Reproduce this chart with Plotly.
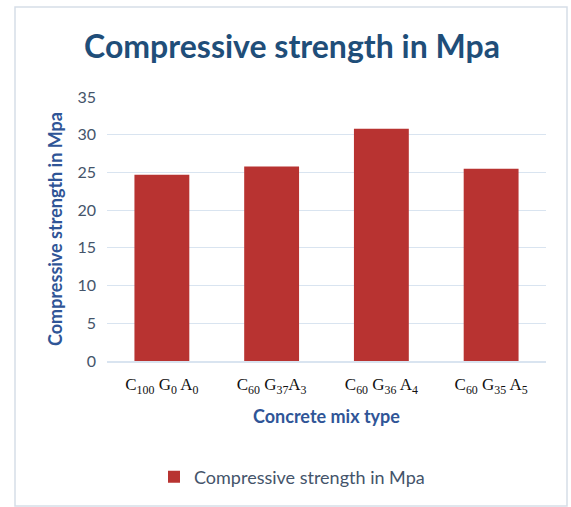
import plotly.graph_objects as go

# Concrete mixes and their measured compressive strength (MPa)
mix_labels = [
    "C<sub>100</sub> G<sub>0</sub> A<sub>0</sub>",
    "C<sub>60</sub> G<sub>37</sub>A<sub>3</sub>",
    "C<sub>60</sub> G<sub>36</sub> A<sub>4</sub>",
    "C<sub>60</sub> G<sub>35</sub> A<sub>5</sub>",
]
strength_mpa = [24.7, 25.8, 30.8, 25.5]
y_ticks = [0, 5, 10, 15, 20, 25, 30, 35]

W, H = 571, 507
ml, mr, mt, mb = 107, 25, 97, 146
pw, ph = W - ml - mr, H - mt - mb

fig = go.Figure()
fig.add_trace(go.Bar(
    x=mix_labels,
    y=strength_mpa,
    name="Compressive strength in Mpa",
    marker=dict(color="#B83331", line=dict(width=0)),
))

# outer frame around the whole chart
def px_x(v):
    return (v - ml) / pw

def px_y(v):
    return (H - mb - v) / ph

fig.add_shape(type="rect", xref="paper", yref="paper",
              x0=px_x(15), x1=px_x(567), y0=px_y(506), y1=px_y(7),
              line=dict(color="#D6DEE8", width=1.5), fillcolor="rgba(0,0,0,0)",
              layer="below")

fig.update_layout(
    width=W, height=H,
    margin=dict(l=ml, r=mr, t=mt, b=mb),
    paper_bgcolor="white", plot_bgcolor="white",
    font=dict(family="Lato, Open Sans, sans-serif"),
    title=dict(text="<b>Compressive strength in Mpa</b>",
               x=292 / W, xanchor="center", xref="container",
               y=1 - 47 / H, yanchor="middle", yref="container",
               font=dict(size=32, color="#1F4E79")),
    bargap=0.5,
    showlegend=True,
    legend=dict(orientation="h", x=292 / W, xref="container", xanchor="center",
                y=1 - 477 / H, yref="container", yanchor="middle",
                font=dict(size=18, color="#44546A"), itemwidth=30),
    xaxis=dict(
        title=dict(text="<b>Concrete mix type</b>", standoff=15,
                   font=dict(size=18, color="#2F5597")),
        tickfont=dict(family="Liberation Serif, serif", size=17, color="#111111"),
        ticklabelstandoff=7,
        showline=True, linecolor="#D9E4F0", linewidth=1.5,
        ticks="", showgrid=False,
    ),
    yaxis=dict(
        title=dict(text="<b>Compressive strength in Mpa</b>", standoff=10,
                   font=dict(size=18, color="#2F5597")),
        range=[0, 35], tickvals=y_ticks,
        tickfont=dict(size=16, color="#44546A"),
        ticklabelstandoff=10,
        showgrid=True, gridcolor="#D9E4F0", gridwidth=1.2,
        zeroline=False, ticks="", ticklen=0,
    ),
)

fig.write_html("out.html")
